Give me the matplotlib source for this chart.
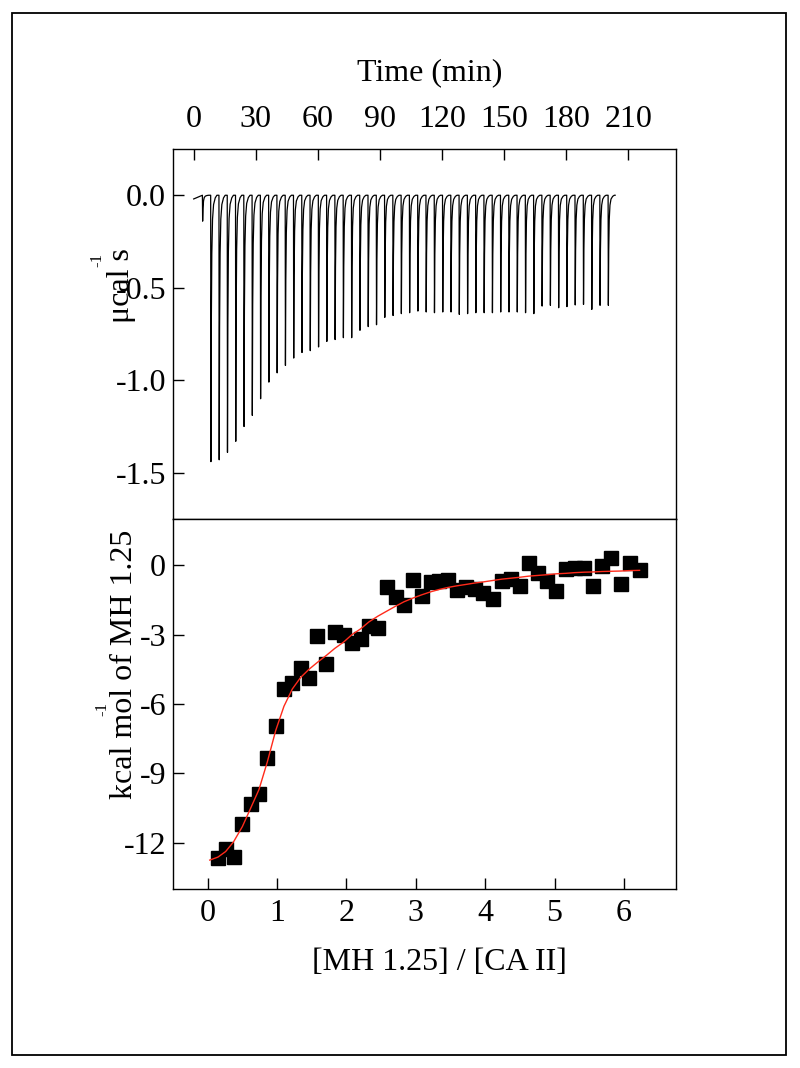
import matplotlib
matplotlib.use("Agg")
import matplotlib.pyplot as plt
from matplotlib.patches import Rectangle

plt.rcParams['font.family'] = ['Liberation Serif', 'DejaVu Serif']
plt.rcParams['axes.unicode_minus'] = False

# ---- raw ITC thermogram (top panel) ----
inj_time = [4.2, 8.2, 12.2, 16.2, 20.2, 24.2, 28.2, 32.2, 36.2, 40.2,
            44.2, 48.2, 52.2, 56.2, 60.2, 64.2, 68.2, 72.2, 76.2, 80.2,
            84.2, 88.2, 92.2, 96.2, 100.2, 104.2, 108.2, 112.2, 116.2, 120.2,
            124.2, 128.2, 132.2, 136.2, 140.2, 144.2, 148.2, 152.2, 156.2, 160.2,
            164.2, 168.2, 172.2, 176.2, 180.2, 184.2, 188.2, 192.2, 196.2, 200.2]
peak_power = [-0.14, -1.44, -1.43, -1.39, -1.33, -1.25, -1.19, -1.10, -1.01, -0.96,
              -0.92, -0.88, -0.85, -0.84, -0.82, -0.79, -0.78, -0.77, -0.77, -0.73,
              -0.71, -0.70, -0.66, -0.65, -0.64, -0.635, -0.626, -0.631, -0.635, -0.631,
              -0.631, -0.644, -0.640, -0.635, -0.635, -0.635, -0.631, -0.631, -0.631, -0.635,
              -0.640, -0.599, -0.595, -0.608, -0.602, -0.593, -0.590, -0.617, -0.595, -0.595]
# one injection peak: minutes after injection / fraction of peak depth
peak_dt = [0.0, 0.12, 0.3, 0.55, 0.9, 1.4, 2.2, 3.0]
peak_frac = [0.0, 1.0, 0.5, 0.22, 0.09, 0.035, 0.01, 0.0]
start_power = -0.02
end_time = 203.6

# ---- integrated heats (bottom panel) ----
molar_ratio = [0.148, 0.259, 0.375, 0.500, 0.620, 0.739, 0.860, 0.980, 1.099, 1.220,
               1.340, 1.460, 1.581, 1.710, 1.830, 1.960, 2.079, 2.205, 2.324, 2.454,
               2.584, 2.709, 2.829, 2.958, 3.084, 3.213, 3.333, 3.463, 3.592, 3.722,
               3.847, 3.973, 4.107, 4.241, 4.370, 4.496, 4.630, 4.759, 4.889, 5.024,
               5.159, 5.288, 5.422, 5.552, 5.687, 5.817, 5.951, 6.091, 6.225]
heat = [-12.65, -12.29, -12.61, -11.21, -10.32, -9.88, -8.33, -6.96, -5.33, -5.08,
        -4.44, -4.87, -3.04, -4.29, -2.88, -3.00, -3.35, -3.17, -2.64, -2.71,
        -0.95, -1.37, -1.74, -0.65, -1.34, -0.72, -0.69, -0.62, -1.05, -0.93,
        -1.02, -1.19, -1.48, -0.69, -0.59, -0.91, 0.10, -0.33, -0.69, -1.12,
        -0.16, -0.11, -0.11, -0.88, -0.04, 0.32, -0.80, 0.10, -0.22]
fit_x = [0.03] + molar_ratio
fit_y = [-12.75, -12.62, -12.38, -11.95, -11.3, -10.5, -9.7, -8.5, -7.15, -6.1,
         -5.35, -4.85, -4.5, -4.2, -3.9, -3.6, -3.32, -3.0, -2.75, -2.45,
         -2.2, -1.98, -1.77, -1.58, -1.42, -1.28, -1.15, -1.05, -0.96, -0.89,
         -0.83, -0.77, -0.72, -0.66, -0.60, -0.56, -0.52, -0.47, -0.44, -0.41,
         -0.37, -0.35, -0.32, -0.30, -0.29, -0.27, -0.26, -0.25, -0.23, -0.22]

W, H = 800, 1068
FS = 23
fig = plt.figure(figsize=(W / 100, H / 100), dpi=100)


def fx(px):
    return px / W


def fy(py):
    return 1 - py / H


left, right = 173, 676
ax1 = fig.add_axes([fx(left), fy(519), fx(right - left), (519 - 149) / H])
ax2 = fig.add_axes([fx(left), fy(889), fx(right - left), (889 - 519) / H])

# build the trace from the peaks
t, p = [0.0], [start_power]
for ti, di in zip(inj_time, peak_power):
    for dt, fr in zip(peak_dt, peak_frac):
        t.append(ti + dt)
        p.append(fr * di)
t.append(end_time)
p.append(0.0)
ax1.plot(t, p, color='black', lw=0.9)

ax1.set_xlim(-10, 233)
ax1.set_ylim(-1.75, 0.25)
ax1.set_xticks([0, 30, 60, 90, 120, 150, 180, 210])
ax1.set_yticks([0.0, -0.5, -1.0, -1.5])
ax1.set_yticklabels(['0.0', '-0.5', '-1.0', '-1.5'])
ax1.tick_params(axis='x', direction='in', length=8, width=1, top=True, bottom=False,
                labeltop=True, labelbottom=False, pad=11, labelsize=FS)
ax1.tick_params(axis='y', direction='in', length=8, width=1, labelsize=FS, pad=5)

ax2.plot(molar_ratio, heat, 's', color='black', ms=10)
ax2.plot(fit_x, fit_y, color='#ff2a1a', lw=1.0)
ax2.set_xlim(-0.5, 6.75)
ax2.set_ylim(-14, 2)
ax2.set_xticks([0, 1, 2, 3, 4, 5, 6])
ax2.set_yticks([0, -3, -6, -9, -12])
ax2.tick_params(axis='x', direction='in', length=8, width=1, labelsize=FS, pad=7)
ax2.tick_params(axis='y', direction='in', length=8, width=1, labelsize=FS, pad=5)

for ax in (ax1, ax2):
    for s in ax.spines.values():
        s.set_linewidth(1.0)

fig.text(fx(430), fy(73), 'Time (min)', ha='center', va='center', fontsize=FS)
fig.text(fx(439), fy(963), '[MH 1.25] / [CA II]', ha='center', va='center', fontsize=FS)

fig.text(fx(122), fy(286), 'μcal s', rotation=90, ha='center', va='center', fontsize=FS)
fig.text(fx(97), fy(260), '-1', rotation=90, ha='center', va='center', fontsize=12)
fig.text(fx(124), fy(664), 'kcal mol of MH 1.25', rotation=90, ha='center', va='center', fontsize=FS)
fig.text(fx(102), fy(709), '-1', rotation=90, ha='center', va='center', fontsize=12)

# outer frame
fig.patches.append(Rectangle((fx(12), fy(1055)), fx(786 - 12), (1055 - 13) / H,
                             transform=fig.transFigure, fill=False, lw=1.3,
                             edgecolor='black'))

fig.savefig('out.png', dpi=100)
